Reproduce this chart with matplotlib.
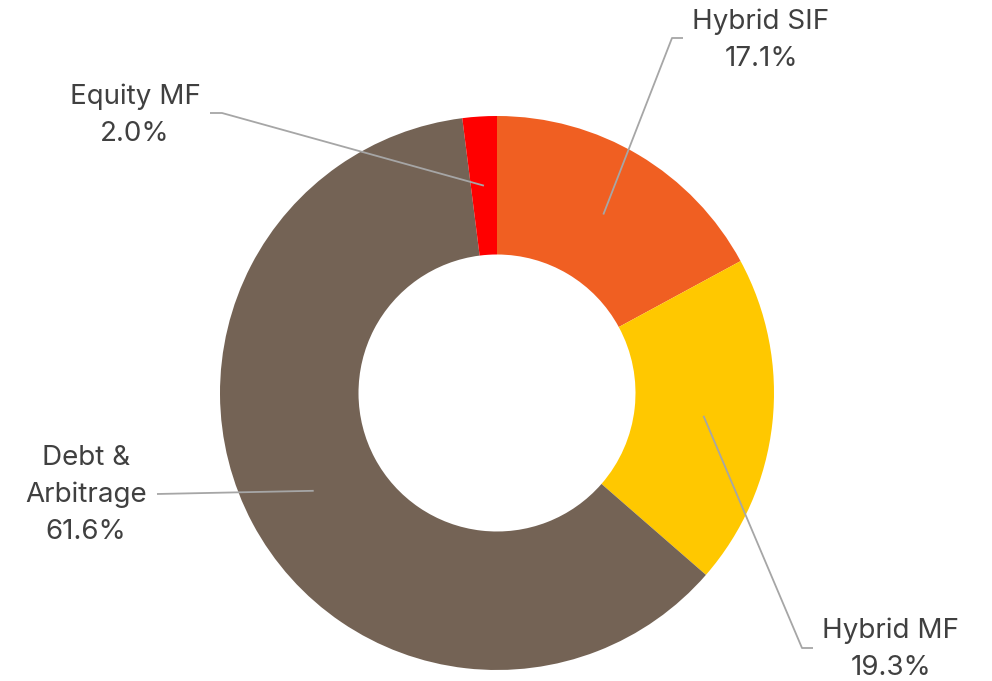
import numpy as np
import matplotlib
matplotlib.use("Agg")
import matplotlib.pyplot as plt

# Portfolio split by category (percent of total)
categories = ["Hybrid SIF", "Hybrid MF", "Debt &\nArbitrage", "Equity MF"]
shares = [17.1, 19.3, 61.6, 2.0]
colors = ["#F05F22", "#FFC800", "#746355", "#FF0000"]

W, H = 992, 681
fig = plt.figure(figsize=(W / 100, H / 100), dpi=100)
ax = fig.add_axes([0, 0, 1, 1])

cx, cy, R = 497, 393, 277
# y axis runs downward, so "counterclock" in data space reads clockwise on screen
ax.pie(shares, colors=colors, startangle=-90, counterclock=True,
       center=(cx, cy), radius=R, wedgeprops=dict(width=R * 0.5, linewidth=0))
ax.set_xlim(0, W)
ax.set_ylim(H, 0)
ax.set_aspect("equal")
ax.axis("off")

# Leader-line anchor on each wedge at mid-ring, middle angle (screen angles)
cum = np.cumsum([0] + shares[:-1])
mids = [90 - (c + s / 2) / 100 * 360 for c, s in zip(cum, shares)]
anchors = [(cx + 0.75 * R * np.cos(np.radians(a)),
            cy - 0.75 * R * np.sin(np.radians(a))) for a in mids]

# Elbow points and label centers for each category
elbows = [[(672, 38), (683, 38)],
          [(802, 648), (813, 648)],
          [(157, 494)],
          [(222, 113), (210, 113)]]
label_pos = [(761, 40), (891, 649), (86, 495), (135, 115)]

for (ax0, ay0), pts, (lx, ly), name, val in zip(anchors, elbows, label_pos,
                                                 categories, shares):
    xs = [ax0] + [p[0] for p in pts]
    ys = [ay0] + [p[1] for p in pts]
    ax.plot(xs, ys, color="#A6A6A6", lw=1.3, solid_capstyle="butt")
    ax.text(lx, ly, f"{name}\n{val:.1f}%", ha="center", va="center",
            fontsize=20, color="#404040", family="Inter", linespacing=1.55)

fig.savefig("out.png", dpi=100)
